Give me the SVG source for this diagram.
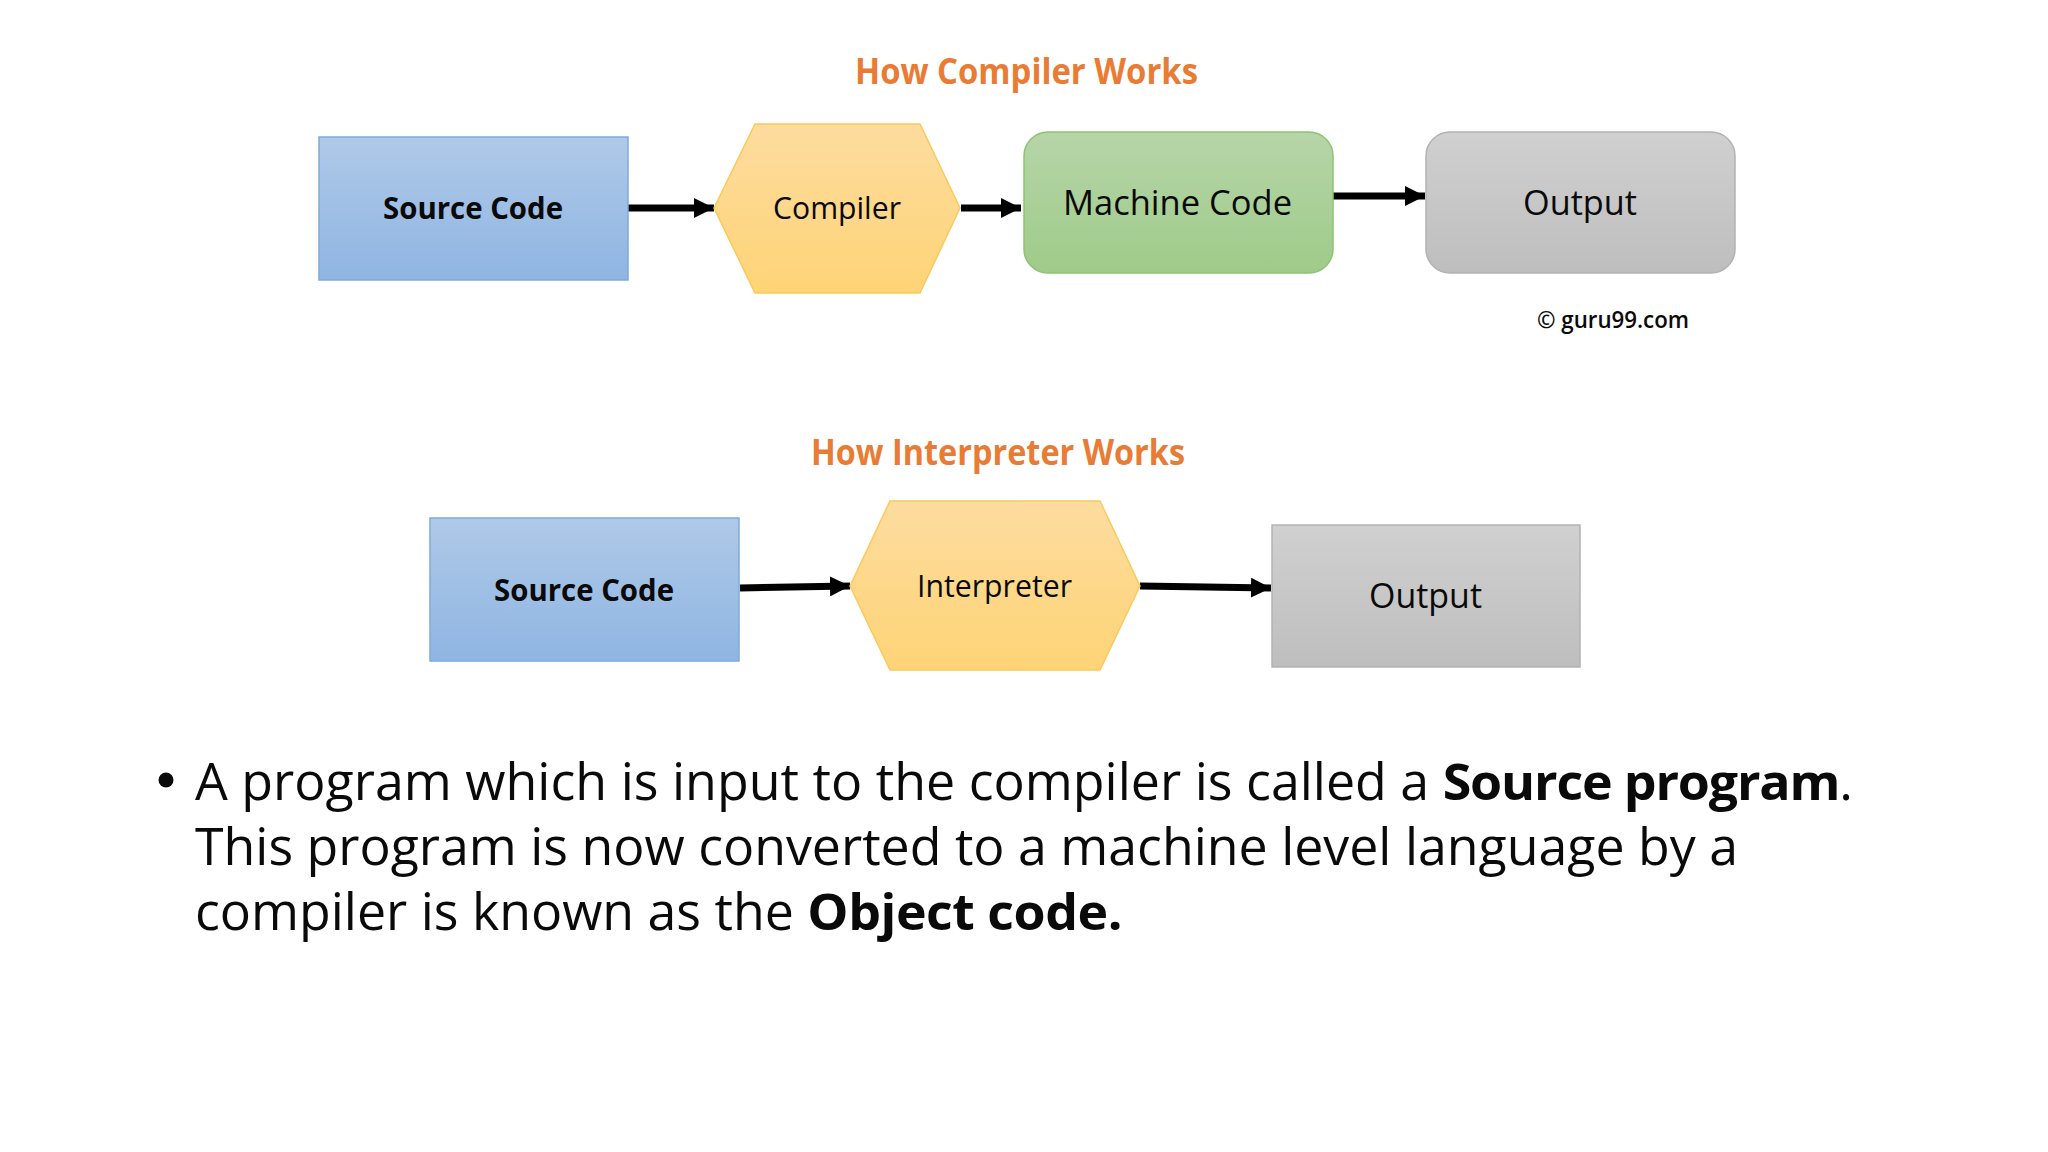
<svg xmlns="http://www.w3.org/2000/svg" width="2048" height="1152" viewBox="0 0 2048 1152">
<style>
text{font-family:"Open Sans","Noto Sans","Liberation Sans",sans-serif;fill:#0a0a0a}
.t{font-size:35px;font-weight:700;fill:#E97C35}
.b{font-size:30px;font-weight:700}
.n{font-size:31px}
.l{font-size:35px}
.m{font-size:51px}
.mb{font-weight:700;letter-spacing:-1.15px}
.mc{font-weight:700;letter-spacing:-.45px}
.blue{fill:url(#gb);stroke:#7FAADC;stroke-width:1.5}
.hex{fill:url(#gy);stroke:#FBC95A;stroke-width:1.5}
.green{fill:url(#gg);stroke:#8FC274;stroke-width:1.5}
.gray{fill:url(#gs);stroke:#B2B2B2;stroke-width:1.5}
.c{fill:none;stroke:#000;stroke-width:7;marker-end:url(#ah)}
</style>
<defs>
<linearGradient id="gb" x1="0" y1="0" x2="0" y2="1"><stop offset="0" stop-color="#AFC9E8"/><stop offset="1" stop-color="#8FB5E2"/></linearGradient>
<linearGradient id="gy" x1="0" y1="0" x2="0" y2="1"><stop offset="0" stop-color="#FDDC9F"/><stop offset="1" stop-color="#FED476"/></linearGradient>
<linearGradient id="gg" x1="0" y1="0" x2="0" y2="1"><stop offset="0" stop-color="#B6D5A8"/><stop offset="1" stop-color="#9FCB89"/></linearGradient>
<linearGradient id="gs" x1="0" y1="0" x2="0" y2="1"><stop offset="0" stop-color="#D0D0D0"/><stop offset="1" stop-color="#BEBEBE"/></linearGradient>
<marker id="ah" markerUnits="userSpaceOnUse" markerWidth="20" markerHeight="20" refX="20" refY="10" orient="auto"><path d="M0 0L20 10L0 20Z" fill="#000"/></marker>
</defs>
<rect width="2048" height="1152" fill="#fff"/>
<g id="titles">
<text class="t" x="855" y="84" textLength="343" lengthAdjust="spacingAndGlyphs">How Compiler Works</text>
<text class="t" x="811" y="465" textLength="374" lengthAdjust="spacingAndGlyphs">How Interpreter Works</text>
</g>
<g id="connectors">
<path class="c" d="M628 208H714"/>
<path class="c" d="M961 208H1021"/>
<path class="c" d="M1333 196H1425"/>
<path class="c" d="M740 588L850 586"/>
<path class="c" d="M1140 586L1271 588"/>
</g>
<g id="source1"><rect class="blue" x="319" y="137" width="309" height="143"/><text class="b" x="383" y="219" textLength="180" lengthAdjust="spacingAndGlyphs">Source Code</text></g>
<g id="compiler"><path class="hex" d="M714 208L755 124H920L960 208L920 293H755Z"/><text class="n" x="773" y="219" textLength="128" lengthAdjust="spacingAndGlyphs">Compiler</text></g>
<g id="machine"><rect class="green" x="1024" y="132" width="309" height="141" rx="24"/><text class="l" x="1063" y="215" textLength="229" lengthAdjust="spacingAndGlyphs">Machine Code</text></g>
<g id="output1"><rect class="gray" x="1426" y="132" width="309" height="141" rx="24"/><text class="l" x="1523" y="215" textLength="114" lengthAdjust="spacingAndGlyphs">Output</text></g>
<g id="copyright"><text x="1537" y="328" font-size="24" font-weight="600" textLength="152" lengthAdjust="spacingAndGlyphs">© guru99.com</text></g>
<g id="source2"><rect class="blue" x="430" y="518" width="309" height="143"/><text class="b" x="494" y="601" textLength="180" lengthAdjust="spacingAndGlyphs">Source Code</text></g>
<g id="interpreter"><path class="hex" d="M850 586L890 501H1100L1140 586L1100 670H890Z"/><text class="n" x="917" y="597" textLength="155" lengthAdjust="spacingAndGlyphs">Interpreter</text></g>
<g id="output2"><rect class="gray" x="1272" y="525" width="308" height="142"/><text class="l" x="1369" y="608" textLength="113" lengthAdjust="spacingAndGlyphs">Output</text></g>
<g id="body">
<circle cx="166" cy="780" r="7.5" fill="#0a0a0a"/>
<text class="m" x="195" y="800" textLength="1658" lengthAdjust="spacingAndGlyphs">A program which is input to the compiler is called a <tspan class="mb">Source program</tspan>.</text>
<text class="m" x="195" y="865" textLength="1543" lengthAdjust="spacingAndGlyphs">This program is now converted to a machine level language by a</text>
<text class="m" x="195" y="930" textLength="927" lengthAdjust="spacingAndGlyphs">compiler is known as the <tspan class="mc">Object code.</tspan></text>
</g>
</svg>
